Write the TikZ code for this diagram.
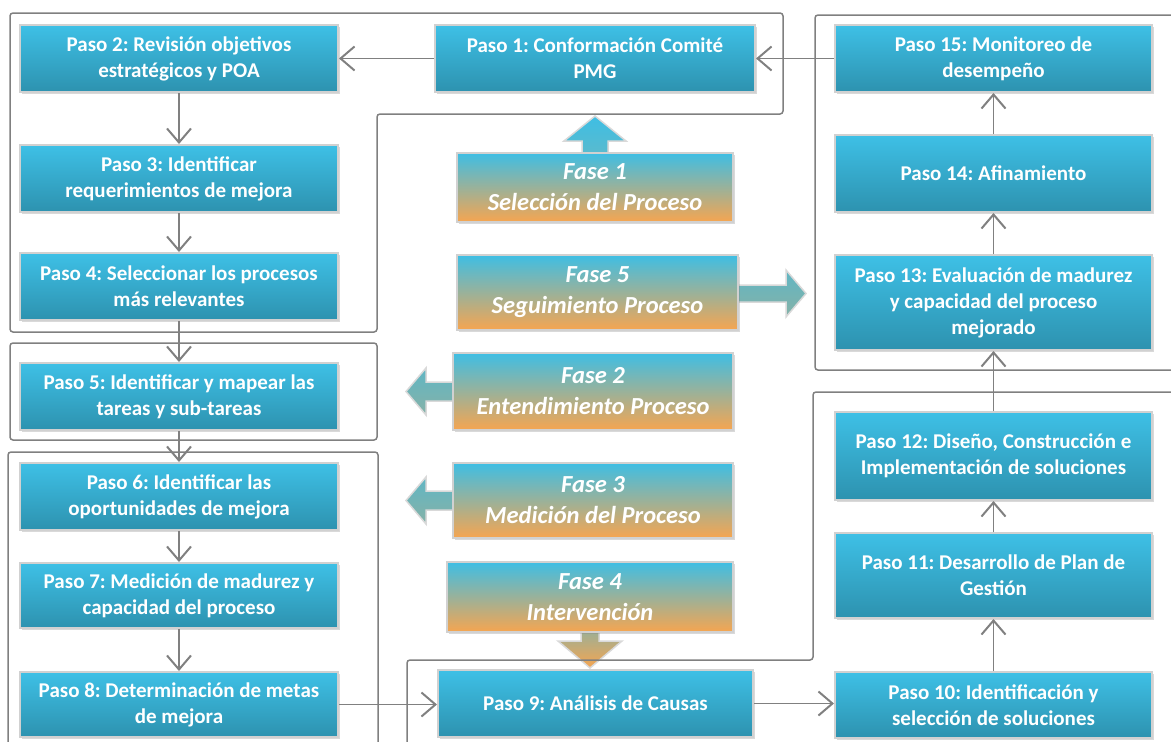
\documentclass[tikz,border=0pt]{standalone}
\usepackage{fontspec}
\setmainfont{Carlito}
\usetikzlibrary{arrows.meta,calc,shadows,backgrounds}
\frenchspacing

\definecolor{pasoarriba}{RGB}{62,192,230}
\definecolor{pasoabajo}{RGB}{45,146,175}
\definecolor{fasearriba}{RGB}{62,190,228}
\definecolor{faseabajo}{RGB}{246,165,80}
\definecolor{fasemedio}{RGB}{96,182,196}
\definecolor{linea}{RGB}{128,128,128}

\begin{document}
\begin{tikzpicture}[x=1pt,y=-1pt]
\tikzset{
  paso/.style={draw=black!18,line width=2pt,top color=pasoarriba,
    bottom color=pasoabajo,text=white,align=center,inner sep=0pt,
    font=\fontsize{21}{26}\selectfont\bfseries,
    drop shadow={shadow xshift=2pt,shadow yshift=-2pt,opacity=.3}},
  fase/.style={paso,top color=fasearriba,bottom color=faseabajo,
    font=\fontsize{24.5}{31}\selectfont\bfseries\itshape},
  grupo/.style={draw=linea,line width=1.5pt,rounded corners=3pt},
  flecha/.style={draw=linea,line width=1.5pt,
    -{Straight Barb[length=14pt,width=24pt,line width=2pt]}},
  bloque/.style={draw=black!15,line width=1.5pt}
}
\clip (0,0) rectangle (1171,742);

% grupos de fases
\draw[grupo] (10,13) -- (783,13) -- (783,114) -- (377,114) -- (377,332)
  -- (10,332) -- cycle;
\draw[grupo] (10,343) rectangle (377,440);
\draw[grupo] (8,760) -- (8,452) -- (378,452) -- (378,760);
\draw[grupo] (407,760) -- (407,660) -- (813,660) -- (813,392) -- (1190,392);
\draw[grupo] (1190,15) -- (815,15) -- (815,370) -- (1190,370);

% pasos
\node[paso,minimum width=320,minimum height=67] (p1) at (595,58.5)
  {Paso 1: Conformación Comité\\PMG};
\node[paso,minimum width=318,minimum height=67] (p2) at (179,58.5)
  {Paso 2: Revisión objetivos\\estratégicos y POA};
\node[paso,minimum width=318,minimum height=67] (p3) at (179,178.5)
  {Paso 3: Identificar\\requerimientos de mejora};
\node[paso,minimum width=318,minimum height=67] (p4) at (179,286.5)
  {Paso 4: Seleccionar los procesos\\más relevantes};
\node[paso,minimum width=318,minimum height=67] (p5) at (179,396.5)
  {Paso 5: Identificar y mapear las\\tareas y sub-tareas};
\node[paso,minimum width=318,minimum height=67] (p6) at (179,496.5)
  {Paso 6: Identificar las\\oportunidades de mejora};
\node[paso,minimum width=318,minimum height=65] (p7) at (179,595.5)
  {Paso 7: Medición de madurez y\\capacidad del proceso};
\node[paso,minimum width=318,minimum height=65] (p8) at (179,704.5)
  {Paso 8: Determinación de metas\\de mejora};
\node[paso,minimum width=315,minimum height=67] (p9) at (595.5,703.5)
  {Paso 9: Análisis de Causas};
\node[paso,minimum width=317,minimum height=66] (p10) at (993.5,705)
  {Paso 10: Identificación y\\selección de soluciones};
\node[paso,minimum width=317,minimum height=85] (p11) at (993.5,575.5)
  {Paso 11: Desarrollo de Plan de\\Gestión};
\node[paso,minimum width=317,minimum height=88] (p12) at (993.5,456)
  {Paso 12: Diseño, Construcción e\\Implementación de soluciones};
\node[paso,minimum width=317,minimum height=95] (p13) at (993.5,302.5)
  {Paso 13: Evaluación de madurez\\y capacidad del proceso\\mejorado};
\node[paso,minimum width=317,minimum height=77] (p14) at (993.5,173.5)
  {Paso 14: Afinamiento};
\node[paso,minimum width=317,minimum height=67] (p15) at (993.5,58.5)
  {Paso 15: Monitoreo de\\desempeño};

% fases
\node[fase,minimum width=276,minimum height=69] (f1) at (595,187.5)
  {Fase 1\\Selección del Proceso};
\node[fase,minimum width=281,minimum height=75] (f5) at (597.5,292.5)
  {Fase 5\\Seguimiento Proceso};
\node[fase,minimum width=280,minimum height=77] (f2) at (593,391.5)
  {Fase 2\\Entendimiento Proceso};
\node[fase,minimum width=280,minimum height=75] (f3) at (593,500.5)
  {Fase 3\\Medición del Proceso};
\node[fase,minimum width=286,minimum height=70] (f4) at (590,597)
  {Fase 4\\Intervención};

\begin{scope}[on background layer]
\shadedraw[bloque,top color=fasearriba,bottom color=fasearriba!85!faseabajo]
  ($(f1.north)+(-13,2)$) -- ++(0,-13) -- ++(-18,0) -- ($(f1.north)+(0,-36)$)
  -- ($(f1.north)+(31,-11)$) -- ++(-18,0) -- ++(0,13) -- cycle;
\shadedraw[bloque,top color=fasemedio,bottom color=fasemedio!75!faseabajo]
  ($(f5.east)+(-2,-7.5)$) -- ++(49,0) -- ++(0,-15) -- ($(f5.east)+(67,1)$)
  -- ($(f5.east)+(47,24.5)$) -- ++(0,-15) -- ++(-49,0) -- cycle;
\foreach \f in {f2,f3}
  \shadedraw[bloque,top color=fasemedio,bottom color=fasemedio!75!faseabajo]
    ($(\f.west)+(2,-9.5)$) -- ++(-28,0) -- ++(0,-14) -- ($(\f.west)+(-46,0)$)
    -- ($(\f.west)+(-26,23.5)$) -- ++(0,-14) -- ++(28,0) -- cycle;
\shadedraw[bloque,top color=fasemedio!60!faseabajo,bottom color=faseabajo]
  ($(f4.south)+(-9,-2)$) -- ++(0,10) -- ++(-23,0) -- ($(f4.south)+(0,35)$)
  -- ($(f4.south)+(32,8)$) -- ++(-23,0) -- ++(0,-10) -- cycle;
\end{scope}

% conectores
\draw[flecha] (p1) -- (p2);
\draw[flecha] (p15) -- (p1);
\draw[flecha] (p2) -- (p3);
\draw[flecha] (p3) -- (p4);
\draw[flecha] (p4) -- (p5);
\draw[flecha] (p5) -- (p6);
\draw[flecha] (p6) -- (p7);
\draw[flecha] (p7) -- (p8);
\draw[flecha] (p8.east) -- (p9.west |- p8.east);
\draw[flecha] (p9) -- (p9 -| p10.west);
\draw[flecha] (p10) -- (p11);
\draw[flecha] (p11) -- (p12);
\draw[flecha] (p12) -- (p13);
\draw[flecha] (p13) -- (p14);
\draw[flecha] (p14) -- (p15);
\end{tikzpicture}
\end{document}
